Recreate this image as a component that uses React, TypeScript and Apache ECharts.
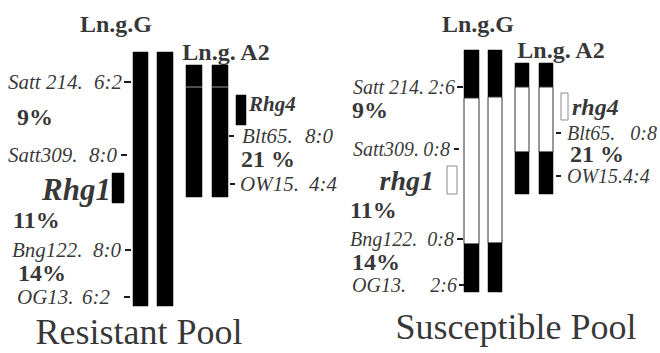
import React, { useEffect, useRef } from "react";
import * as echarts from "echarts";

const FAMILY = "Liberation Serif";

// Chromosome segments in map units: [x0, x1, top, bottom, kind] (b = black, w = white, o = open box)
const resistantChromosomes = [
  [133, 148, 52, 306, "b"],
  [157, 173, 52, 306, "b"],
  [186, 202, 65, 197, "b"],
  [212, 228, 65, 197, "b"],
];
const resistantGenes = [
  [112, 124, 173, 203, "b"],
  [236, 246, 95, 125, "b"],
];
const susceptibleChromosomes = [
  [464, 479, 50, 98, "b"], [464, 479, 98, 244, "w"], [464, 479, 244, 292, "b"],
  [488, 502, 50, 97, "b"], [488, 502, 97, 243, "w"], [488, 502, 243, 292, "b"],
  [515, 529, 63, 87, "b"], [515, 529, 87, 152, "w"], [515, 529, 152, 194, "b"],
  [539, 553, 63, 87, "b"], [539, 553, 87, 152, "w"], [539, 553, 152, 194, "b"],
];
const susceptibleGenes = [
  [447, 457, 166, 194, "o"],
  [561, 568, 93, 120, "o"],
];
// faint band boundary on resistant Ln.g. A2
const bandLines = [
  [186, 202, 87],
  [212, 228, 87],
];

// Markers: [name, ratio, y, nameLeftX, ratioRightX, tickX0, tickX1, fontSize]
const resistantMarkers = [
  ["Satt 214.", "6:2", 82, 8, 122, 124, 131, 21],
  ["Satt309.", "8:0", 155, 8, 117, 121, 127, 21],
  ["Bng122.", "8:0", 250, 12, 121, 125, 131, 21],
  ["OG13.", "6:2", 297, 17, 110, 124, 130, 21],
  ["Blt65.", "8:0", 136, 242, 333, 229, 234, 21],
  ["OW15.", "4:4", 184, 240, 337, 230, 235, 21],
];
const susceptibleMarkers = [
  ["Satt 214.", "2:6", 87, 353, 455, 457, 463, 20],
  ["Satt309.", "0:8", 149, 353, 450, 454, 459, 20],
  ["Bng122.", "0:8", 239, 350, 454, 457, 463, 20],
  ["OG13.", "2:6", 285, 352, 457, 459, 464, 20],
  ["Blt65.", "0:8", 133, 567, 657, 556, 561, 20],
  ["OW15.4:4", "", 176, 567, 657, 556, 561, 20],
];
const percentLabels = [
  ["9%", 17, 117],
  ["11%", 13, 220],
  ["14%", 18, 273],
  ["21 %", 241, 159],
  ["9%", 352, 110],
  ["11%", 350, 210],
  ["14%", 352, 262],
  ["21 %", 570, 154],
];
const geneLabels = [
  ["Rhg1", 111, 189, "right", 31],
  ["Rhg4", 249, 104, "left", 21],
  ["rhg1", 434, 180, "right", 28],
  ["rhg4", 572, 107, "left", 24],
];
const groupTitles = [
  ["Ln.g.G", 116, 24],
  ["Ln.g. A2", 226, 52],
  ["Ln.g.G", 478, 24],
  ["Ln.g. A2", 561, 50],
];
const poolTitles = [
  ["Resistant Pool", 139, 332],
  ["Susceptible Pool", 516, 327],
];

type TextItem = {
  text: string; x: number; y: number; align: string;
  size: number; weight: string; style: string;
};

export default function App() {
  const ref = useRef<HTMLDivElement>(null);
  useEffect(() => {
    document.body.style.margin = "0";
    const chart = echarts.init(ref.current!, null, { renderer: "svg" });

    const rects = [
      ...resistantChromosomes,
      ...resistantGenes,
      ...susceptibleChromosomes,
      ...susceptibleGenes,
    ] as any[];

    const markers = [...resistantMarkers, ...susceptibleMarkers] as any[];
    const lines: number[][] = [
      ...bandLines.map((b) => [b[0], b[1], b[2], 0]),
      ...markers.map((m) => [m[5], m[6], m[2], 1]),
    ];

    const texts: TextItem[] = [];
    markers.forEach((m: any) => {
      texts.push({ text: m[0], x: m[3], y: m[2], align: "left", size: m[7], weight: "normal", style: "italic" });
      if (m[1]) texts.push({ text: m[1], x: m[4], y: m[2], align: "right", size: m[7], weight: "normal", style: "italic" });
    });
    percentLabels.forEach((m: any) => texts.push({ text: m[0], x: m[1], y: m[2], align: "left", size: 24, weight: "bold", style: "normal" }));
    geneLabels.forEach((m: any) => texts.push({ text: m[0], x: m[1], y: m[2], align: m[3], size: m[4], weight: "bold", style: "italic" }));
    groupTitles.forEach((m: any) => texts.push({ text: m[0], x: m[1], y: m[2], align: "center", size: 24, weight: "bold", style: "normal" }));
    poolTitles.forEach((m: any) => texts.push({ text: m[0], x: m[1], y: m[2], align: "center", size: 36, weight: "normal", style: "normal" }));

    const posFor = (a: string) => (a === "left" ? "right" : a === "right" ? "left" : "inside");

    chart.setOption({
      animation: false,
      backgroundColor: "#ffffff",
      textStyle: { fontFamily: FAMILY },
      grid: { left: 0, right: 0, top: 0, bottom: 0 },
      xAxis: { type: "value", min: 0, max: 660, show: false },
      yAxis: { type: "value", min: 0, max: 353, inverse: true, show: false },
      series: [
        {
          type: "custom",
          data: rects.map((r, i) => [r[0], r[1], r[2], r[3], i]),
          renderItem: (params: any, api: any) => {
            const r = rects[params.dataIndex];
            const p0 = api.coord([api.value(0), api.value(2)]);
            const p1 = api.coord([api.value(1), api.value(3)]);
            const kind = r[4];
            return {
              type: "rect",
              shape: { x: p0[0], y: p0[1], width: p1[0] - p0[0], height: p1[1] - p0[1] },
              style:
                kind === "b"
                  ? { fill: "#000000", stroke: "#000000", lineWidth: 0.5 }
                  : kind === "w"
                  ? { fill: "#ffffff", stroke: "#333333", lineWidth: 1 }
                  : { fill: "#ffffff", stroke: "#8a8a8a", lineWidth: 1 },
            };
          },
        },
        {
          type: "custom",
          data: lines,
          renderItem: (params: any, api: any) => {
            const p0 = api.coord([api.value(0), api.value(2)]);
            const p1 = api.coord([api.value(1), api.value(2)]);
            const isTick = api.value(3) === 1;
            return {
              type: "line",
              shape: { x1: p0[0], y1: p0[1], x2: p1[0], y2: p1[1] },
              style: isTick
                ? { stroke: "#000000", lineWidth: 1.8 }
                : { stroke: "#9a9a9a", lineWidth: 1 },
            };
          },
        },
        {
          type: "scatter",
          symbolSize: 0,
          silent: true,
          data: texts.map((t) => ({
            value: [t.x, t.y],
            label: {
              show: true,
              formatter: t.text,
              position: posFor(t.align),
              distance: 0,
              color: "#000000",
              fontFamily: FAMILY,
              fontSize: t.size,
              fontWeight: t.weight,
              fontStyle: t.style,
            },
          })),
        },
      ],
    });
    return () => chart.dispose();
  }, []);
  return <div ref={ref} style={{ width: 660, height: 353 }} />;
}
